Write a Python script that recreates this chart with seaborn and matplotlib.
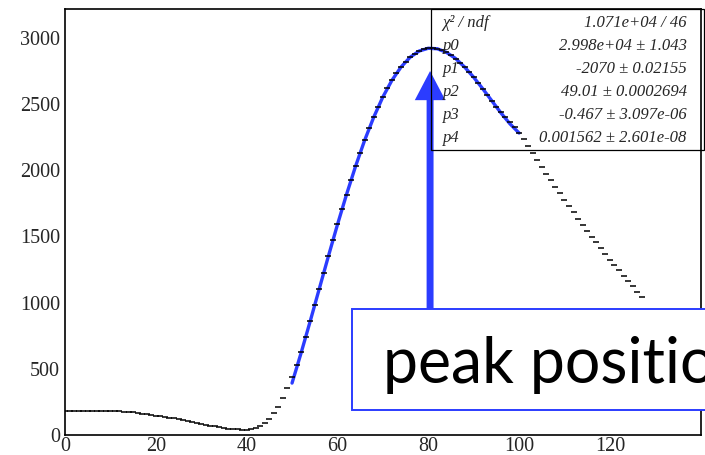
import matplotlib
matplotlib.use("Agg")
import matplotlib.pyplot as plt
import seaborn as sns
import pandas as pd
from matplotlib.patches import Rectangle
from matplotlib.ticker import MultipleLocator

# ---------------- data ----------------
bin_x = list(range(0, 128))
counts = [
    180, 181, 182, 183, 183, 184, 184, 184, 184, 184,      # 0-9
    183, 182, 180, 177, 174, 170, 166, 161, 156, 151,      # 10-19
    146, 141, 136, 131, 126, 121, 114, 106, 99, 91,        # 20-29
    84, 77, 71, 65, 59, 54, 49, 45, 42, 40,                # 30-39
    39, 42, 52, 68, 92, 124, 164, 214, 278, 354,           # 40-49
    438, 530, 630, 740, 857, 980, 1105, 1225, 1350, 1470,  # 50-59
    1590, 1705, 1815, 1925, 2030, 2130, 2225, 2315, 2400, 2478,  # 60-69
    2552, 2617, 2678, 2730, 2778, 2818, 2852, 2878, 2898, 2912,  # 70-79
    2920, 2920, 2915, 2905, 2889, 2868, 2842, 2812, 2778, 2741,  # 80-89
    2700, 2658, 2614, 2569, 2523, 2480, 2440, 2400, 2362, 2323,  # 90-99
    2282, 2235, 2182, 2127, 2075, 2024, 1973, 1923, 1873, 1824,  # 100-109
    1776, 1728, 1681, 1634, 1588, 1543, 1498, 1454, 1410, 1367,  # 110-119
    1325, 1283, 1242, 1201, 1161, 1122, 1083, 1045,              # 120-127
]
fit_x = list(range(50, 101, 2))
fit_y = [392, 620, 859, 1104, 1349, 1588, 1816, 2030, 2226, 2400,
         2552, 2678, 2778, 2852, 2899, 2920, 2916, 2889, 2843, 2778,
         2701, 2614, 2523, 2432, 2349, 2280]
x_ticks = [0, 20, 40, 60, 80, 100, 120]
y_ticks = [0, 500, 1000, 1500, 2000, 2500, 3000]
stats_labels = ["\u03c7\u00b2 / ndf", "p0", "p1", "p2", "p3", "p4"]
stats_values = ["1.071e+04 / 46", "2.998e+04 \u00b1 1.043", "-2070 \u00b1 0.02155",
                "49.01 \u00b1 0.0002694", "-0.467 \u00b1 3.097e-06",
                "0.001562 \u00b1 2.601e-08"]
annotation_text = "peak position"
peak_x = 80.4

# ---------------- style ----------------
sns.set_style("white")
plt.rcParams["font.family"] = ["Liberation Serif", "DejaVu Serif"]

W, H = 705, 455
fig = plt.figure(figsize=(W / 100, H / 100), dpi=100)
L, R, T, B = 65, 700.7, 9.3, 435
ax = fig.add_axes([L / W, (H - B) / H, (R - L) / W, (B - T) / H])

blue = "#2b3cff"
hist_df = pd.DataFrame({"x": bin_x, "y": counts})
fit_df = pd.DataFrame({"x": fit_x, "y": fit_y})

sns.lineplot(data=fit_df, x="x", y="y", color=blue, linewidth=2.4, ax=ax, zorder=2)
sns.scatterplot(data=hist_df, x="x", y="y", marker="_", s=14, color="black",
                edgecolor="black", linewidth=1.1, ax=ax, zorder=3)

ax.set_xlim(0, 140)
ax.set_ylim(0, 3214)
ax.set_xlabel("")
ax.set_ylabel("")
ax.set_xticks(x_ticks)
ax.set_yticks(y_ticks)
ax.xaxis.set_minor_locator(MultipleLocator(5))
ax.yaxis.set_minor_locator(MultipleLocator(100))
ax.tick_params(axis="both", which="both", direction="in", color="black",
               labelsize=14.5, top=False, right=False, width=0.8)
ax.tick_params(axis="y", which="major", length=13, pad=3.5)
ax.tick_params(axis="y", which="minor", length=6.5)
ax.tick_params(axis="x", which="major", length=9.5, pad=1.5)
ax.tick_params(axis="x", which="minor", length=4.2)
for sp in ax.spines.values():
    sp.set_visible(True)
    sp.set_color("black")
    sp.set_linewidth(1.2)

# ---------------- stats box ----------------
def fx(px):
    return px / W

def fy(py):
    return 1 - py / H

fig.patches.append(Rectangle((fx(431), fy(150)), fx(704) - fx(431), fy(9) - fy(150),
                             transform=fig.transFigure, fill=False,
                             edgecolor="black", linewidth=0.9, zorder=5))
baselines = [27, 50, 73, 96, 119, 142.5]
for lab, val, by in zip(stats_labels, stats_values, baselines):
    fig.text(fx(442.7), fy(by), lab, ha="left", va="baseline", fontsize=12,
             style="italic", family=["Liberation Serif", "DejaVu Serif"], zorder=6)
    fig.text(fx(686.7), fy(by), val, ha="right", va="baseline", fontsize=12,
             style="italic", family=["Liberation Serif", "DejaVu Serif"], zorder=6)

# ---------------- annotation ----------------
tip_y = (B - 71) / ((B - T) / 3214)
tail_y = (B - 308.7) / ((B - T) / 3214)
ax.annotate("", xy=(peak_x, tip_y), xytext=(peak_x, tail_y),
            arrowprops=dict(width=5, headwidth=22, headlength=21, shrink=0,
                            color=blue, linewidth=0),
            zorder=7, annotation_clip=False)

fig.patches.append(Rectangle((fx(352), fy(410)), 1.2 - fx(352), fy(308.7) - fy(410),
                             transform=fig.transFigure, facecolor="white",
                             edgecolor=blue, linewidth=1.4, zorder=8))
fig.text(fx(383.3), fy(383.3), annotation_text, ha="left", va="baseline",
         fontsize=45, family=["Lato", "DejaVu Sans"], color="black", zorder=9)

fig.savefig("out.png", dpi=100)
